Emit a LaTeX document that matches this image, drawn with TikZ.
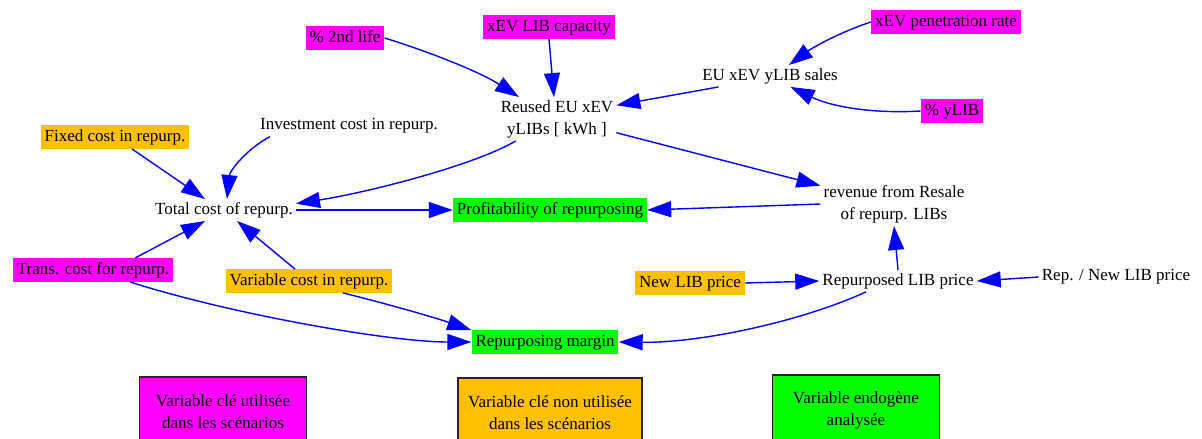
\documentclass[tikz,border=0pt]{standalone}
\usepackage{fontspec}
\setmainfont{Liberation Serif}
\usetikzlibrary{arrows.meta}
\definecolor{mag}{RGB}{255,0,255}
\definecolor{org}{RGB}{255,192,0}
\definecolor{grn}{RGB}{0,255,0}
\tikzset{
  x=1pt, y=-1pt,
  every node/.style={font=\fontsize{17}{22}\selectfont, align=center},
  boxed/.style={inner xsep=4pt, inner ysep=4pt, text height=12pt, text depth=3.5pt},
  magbox/.style={boxed, fill=mag},
  orgbox/.style={boxed, fill=org},
  grnbox/.style={boxed, fill=grn},
  plain/.style={inner sep=3pt},
  legend/.style={draw=black!85, line width=1.2pt, minimum height=70pt, inner sep=3pt},
  arr/.style={-{Triangle[length=24pt,width=16pt]}, draw=blue, line width=1.4pt}
}
\begin{document}
\begin{tikzpicture}
\clip (0,0) rectangle (1202,439);
\fill[white] (0,0) rectangle (1202,439);
% nodes
\node[magbox] (life) at (345,38) {\% 2nd life};
\node[magbox] (cap) at (549,27) {xEV LIB capacity};
\node[magbox] (pen) at (946,22) {xEV penetration rate};
\node[plain] (sales) at (770,76) {EU xEV yLIB sales};
\node[magbox] (ylib) at (952,111) {\% yLIB};
\node[plain] (reused) at (557,119) {Reused EU xEV\\yLIBs [ kWh ]};
\node[plain] (inv) at (349,126) {Investment cost in repurp.};
\node[orgbox] (fixed) at (115,137) {Fixed cost in repurp.};
\node[plain] (total) at (224,210) {Total cost of repurp.};
\node[grnbox] (prof) at (550,210) {Profitability of repurposing};
\node[plain] (rev) at (894,204) {revenue from Resale\\of repurp. LIBs};
\node[magbox] (trans) at (93,270) {Trans. cost for repurp.};
\node[orgbox] (var) at (309,281) {Variable cost in repurp.};
\node[orgbox] (newp) at (690,283) {New LIB price};
\node[plain] (rlp) at (898,281) {Repurposed LIB price};
\node[plain] (ratio) at (1116,277) {Rep. / New LIB price};
\node[grnbox] (margin) at (545,342) {Repurposing margin};
% legend
\node[legend, fill=mag, minimum width=167pt] (l1) at (223,412) {Variable clé utilisée\\dans les scénarios};
\node[legend, fill=org, minimum width=184pt] (l2) at (550,413) {Variable clé non utilisée\\dans les scénarios};
\node[legend, fill=grn, minimum width=167pt] (l3) at (856,410) {Variable endogène\\analysée};
% edges
\draw[arr] (life.east) .. controls (430,52) and (480,72) .. (reused.150);
\draw[arr] (cap.south) -- ([xshift=-3pt]reused.north);
\draw[arr] (pen.west) .. controls (840,32) and (812,48) .. (sales.30);
\draw[arr] (ylib.west) .. controls (870,114) and (830,106) .. (sales.-28);
\draw[arr] (sales.-168) -- (reused.13);
\draw[arr] (reused.-13) -- (rev.166);
\draw[arr] (reused.-152) .. controls (475,165) and (370,192) .. (total.5);
\draw[arr] ([xshift=-79pt]inv.south) .. controls (248,148) and (230,170) .. ([xshift=3pt]total.north);
\draw[arr] ([xshift=17pt]fixed.south) -- ([xshift=-19pt]total.north);
\draw[arr] (total.east) -- (prof.west);
\draw[arr] (rev.west) -- (prof.east);
\draw[arr] ([xshift=42pt]trans.north) -- ([xshift=-19pt]total.south);
\draw[arr] ([xshift=-14pt]var.north) -- ([xshift=13pt]total.south);
\draw[arr] ([xshift=37pt]trans.south) .. controls (230,314) and (390,342) .. (margin.west);
\draw[arr] ([xshift=34pt]var.south) .. controls (380,302) and (430,316) .. (margin.north west);
\draw[arr] (newp.east) -- (rlp.west);
\draw[arr] (ratio.west) -- (rlp.east);
\draw[arr] (rlp.north) -- (rev.south);
\draw[arr] ([xshift=-32pt]rlp.south) .. controls (800,322) and (700,343) .. (margin.east);
\end{tikzpicture}
\end{document}
